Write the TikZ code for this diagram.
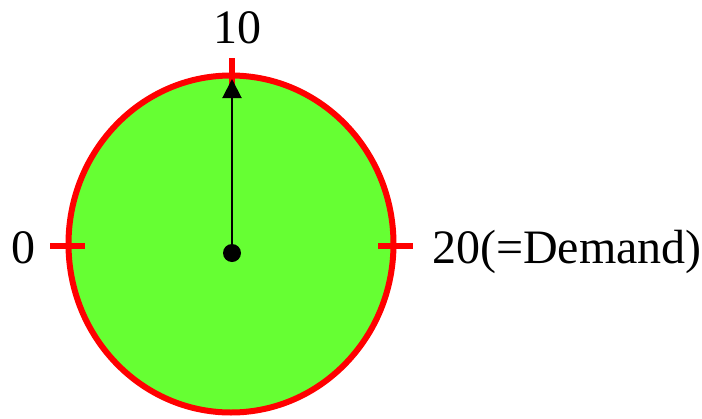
\documentclass[tikz,border=0pt]{standalone}
\usepackage{fontspec}
\setmainfont{Liberation Serif}
\usetikzlibrary{arrows.meta}
\definecolor{dialgreen}{RGB}{102,255,51}
\tikzset{
  tick/.style={draw=red, line width=6pt},
  lbl/.style={inner sep=0pt, font=\fontsize{48}{58}\selectfont, anchor=base},
  pointer/.style={line width=2pt, -{Triangle[length=19pt,width=19pt]}}
}
\begin{document}
\begin{tikzpicture}[x=1pt,y=-1pt]
\useasboundingbox (0,0) rectangle (702,418);
\draw[draw=red, fill=dialgreen, line width=6pt] (231,244) ellipse [x radius=162.5, y radius=168.5];
\coordinate (t1) at (232,58); \coordinate (t2) at (232,93);
\coordinate (l1) at (50,246); \coordinate (l2) at (85,246);
\coordinate (r1) at (378,246); \coordinate (r2) at (413,246);
\draw[tick] (t1) -- (t2);
\draw[tick] (l1) -- (l2);
\draw[tick] (r1) -- (r2);
\node[circle, fill=black, minimum size=18pt, inner sep=0pt] (c) at (232,253) {};
\coordinate (tip) at (232,79);
\draw[pointer] (c.center) -- (tip);
\node[lbl] (ten) at (237,43) {10};
\node[lbl] (zero) at (23,263) {0};
\node[lbl, anchor=base west] (twenty) at (432,263) {20(=Demand)};
\end{tikzpicture}
\end{document}
